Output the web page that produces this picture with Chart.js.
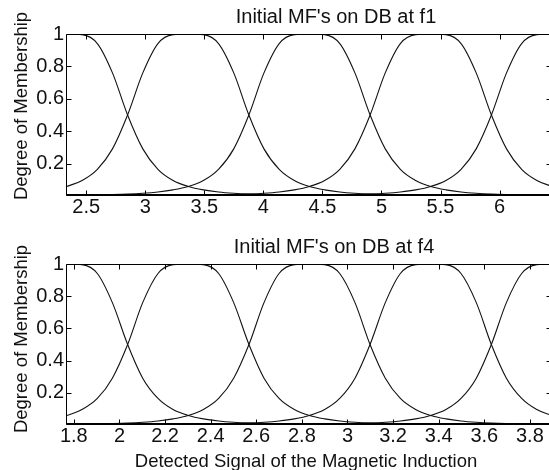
<!DOCTYPE html>
<html>
<head>
<meta charset="utf-8">
<script src="https://cdn.jsdelivr.net/npm/chart.js@4"></script>
<style>
  html, body { margin: 0; padding: 0; background: #fff; }
  #wrap { position: relative; width: 549px; height: 470px; overflow: hidden; background: #fff; }
  #wrap canvas { position: absolute; left: 0; }
</style>
</head>
<body>
<div id="wrap">
  <canvas id="c1" width="556" height="235" style="top:0"></canvas>
  <canvas id="c2" width="556" height="235" style="top:235px"></canvas>
</div>
<script>
// sample points along the detected signal, one grid per panel
const xF1 = [2.337, 2.465, 2.594, 2.722, 2.850, 2.979, 3.107, 3.235, 3.364, 3.492, 3.620,
             3.749, 3.877, 4.005, 4.134, 4.262, 4.390, 4.519, 4.647, 4.775, 4.904, 5.032,
             5.160, 5.289, 5.417, 5.546, 5.674, 5.802, 5.931, 6.059, 6.187, 6.316, 6.444];
const xF4 = [1.770, 1.836, 1.903, 1.969, 2.036, 2.102, 2.169, 2.235, 2.302, 2.368, 2.435,
             2.501, 2.568, 2.634, 2.700, 2.767, 2.833, 2.900, 2.966, 3.033, 3.099, 3.166,
             3.232, 3.299, 3.365, 3.432, 3.498, 3.565, 3.631, 3.697, 3.764, 3.830, 3.897];

// degree of membership of the five MFs at those points (same shape on both panels)
const mf1 = [1, 0.996, 0.941, 0.76, 0.5, 0.291, 0.165, 0.096, 0.059, 0.038, 0.025, 0.017, 0.012, 0.009, 0.007, 0.005,
             0.004, 0.003, 0.002, 0.002, 0.002, 0.001, 0.001, 0.001, 0.001, 0.001, 0.001, 0, 0, 0, 0, 0, 0];
const mf2 = [0.059, 0.096, 0.165, 0.291, 0.5, 0.76, 0.941, 0.996, 1, 0.996, 0.941, 0.76, 0.5, 0.291, 0.165, 0.096,
             0.059, 0.038, 0.025, 0.017, 0.012, 0.009, 0.007, 0.005, 0.004, 0.003, 0.002, 0.002, 0.002, 0.001, 0.001, 0.001, 0.001];
const mf3 = [0.004, 0.005, 0.007, 0.009, 0.012, 0.017, 0.025, 0.038, 0.059, 0.096, 0.165, 0.291, 0.5, 0.76, 0.941, 0.996,
             1, 0.996, 0.941, 0.76, 0.5, 0.291, 0.165, 0.096, 0.059, 0.038, 0.025, 0.017, 0.012, 0.009, 0.007, 0.005, 0.004];
const mf4 = [0.001, 0.001, 0.001, 0.001, 0.002, 0.002, 0.002, 0.003, 0.004, 0.005, 0.007, 0.009, 0.012, 0.017, 0.025, 0.038,
             0.059, 0.096, 0.165, 0.291, 0.5, 0.76, 0.941, 0.996, 1, 0.996, 0.941, 0.76, 0.5, 0.291, 0.165, 0.096, 0.059];
const mf5 = [0, 0, 0, 0, 0, 0, 0.001, 0.001, 0.001, 0.001, 0.001, 0.001, 0.002, 0.002, 0.002, 0.003,
             0.004, 0.005, 0.007, 0.009, 0.012, 0.017, 0.025, 0.038, 0.059, 0.096, 0.165, 0.291, 0.5, 0.76, 0.941, 0.996, 1];

const ticksF1 = [2.5, 3, 3.5, 4, 4.5, 5, 5.5, 6];
const ticksF4 = [1.8, 2, 2.2, 2.4, 2.6, 2.8, 3, 3.2, 3.4, 3.6, 3.8];
const ticksY = [0.2, 0.4, 0.6, 0.8, 1];

const FONT = '"Liberation Sans", Arial, Helvetica, sans-serif';

// matlab style box: frame, inward ticks and the texts
const matlabAxes = {
  id: 'matlabAxes',
  afterDatasetsDraw(chart, args, o) {
    const { ctx, chartArea: a, scales } = chart;
    ctx.save();
    ctx.strokeStyle = '#000';
    ctx.lineWidth = 1;
    const L = a.left - 0.5, R = a.right - 0.5, T = a.top + 0.5, B = a.bottom - 0.5;
    ctx.beginPath();
    ctx.rect(L, T, R - L, B - T);
    for (const v of o.xTicks) {
      const x = Math.round(scales.x.getPixelForValue(v)) + 0.5;
      ctx.moveTo(x, B); ctx.lineTo(x, B - 5);
      ctx.moveTo(x, T); ctx.lineTo(x, T + 5);
    }
    for (const v of ticksY) {
      const y = Math.round(scales.y.getPixelForValue(v)) + 0.5;
      ctx.moveTo(L, y); ctx.lineTo(L + 5, y);
      ctx.moveTo(R, y); ctx.lineTo(R - 5, y);
    }
    ctx.stroke();
    // the baseline looks heavier in the original (tails of the MFs sit on it)
    ctx.lineWidth = 2;
    ctx.beginPath();
    ctx.moveTo(L, B - 0.5); ctx.lineTo(R, B - 0.5);
    ctx.stroke();

    ctx.fillStyle = '#111';
    ctx.textAlign = 'center';
    ctx.textBaseline = 'alphabetic';
    ctx.font = '20px ' + FONT;
    ctx.fillText(o.title, o.titleX, o.titleY);
    ctx.font = '18.5px ' + FONT;
    if (o.xLabel) ctx.fillText(o.xLabel, o.xLabelX, o.xLabelY);
    ctx.translate(o.yLabelX, o.yLabelY);
    ctx.rotate(-Math.PI / 2);
    ctx.fillText(o.yLabel, 0, 0);
    ctx.restore();
  }
};

function makePanel(id, xs, ticks, padTop, xHeight, texts) {
  const curves = [mf1, mf2, mf3, mf4, mf5];
  return new Chart(document.getElementById(id), {
    type: 'line',
    data: {
      datasets: curves.map(ys => ({
        data: xs.map((x, i) => ({ x: x, y: ys[i] })),
        borderColor: '#111',
        borderWidth: 1.1,
        pointRadius: 0,
        cubicInterpolationMode: 'monotone'
      }))
    },
    options: {
      responsive: false,
      devicePixelRatio: 1,
      animation: false,
      layout: { padding: { top: padTop, right: 4, left: 0, bottom: 0 } },
      plugins: {
        legend: { display: false },
        tooltip: { enabled: false },
        matlabAxes: Object.assign({ xTicks: ticks }, texts)
      },
      scales: {
        x: {
          type: 'linear',
          min: xs[0],
          max: xs[xs.length - 1],
          afterBuildTicks: s => { s.ticks = ticks.map(v => ({ value: v })); },
          afterFit: s => { s.height = xHeight; },
          grid: { display: false, drawTicks: false },
          border: { display: false },
          ticks: {
            padding: 1,
            color: '#111',
            font: { family: FONT, size: 20, lineHeight: 1 },
            callback: v => String(v)
          }
        },
        y: {
          min: 0,
          max: 1,
          afterBuildTicks: s => { s.ticks = ticksY.map(v => ({ value: v })); },
          afterFit: s => { s.width = 67; },
          grid: { display: false, drawTicks: false },
          border: { display: false },
          ticks: {
            padding: 3,
            color: '#111',
            font: { family: FONT, size: 20, lineHeight: 1 },
            callback: v => String(v)
          }
        }
      }
    },
    plugins: [matlabAxes]
  });
}

makePanel('c1', xF1, ticksF1, 34, 39, {
  title: "Initial MF's on DB at f1", titleX: 336, titleY: 23,
  yLabel: 'Degree of Membership', yLabelX: 27, yLabelY: 106
});
makePanel('c2', xF4, ticksF4, 29, 45, {
  title: "Initial MF's on DB at f4", titleX: 334, titleY: 18,
  yLabel: 'Degree of Membership', yLabelX: 27, yLabelY: 104,
  xLabel: 'Detected Signal of the Magnetic Induction', xLabelX: 306, xLabelY: 232
});
</script>
</body>
</html>
